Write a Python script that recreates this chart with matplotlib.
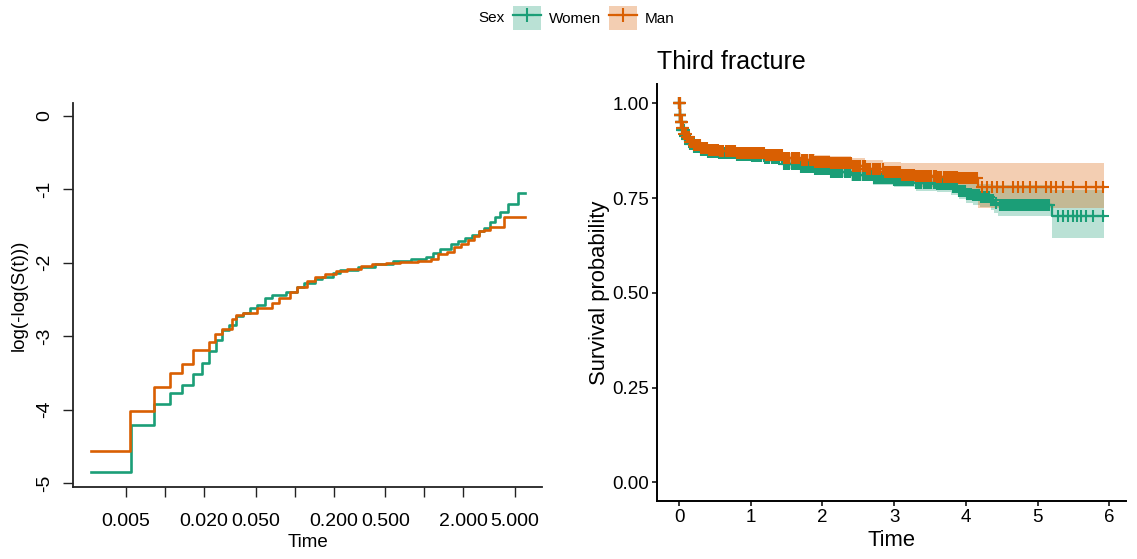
import matplotlib
matplotlib.use("Agg")
import matplotlib.pyplot as plt
from matplotlib.lines import Line2D
from matplotlib.patches import Patch
import numpy as np

plt.rcParams["font.family"] = ["Liberation Sans", "DejaVu Sans"]

C_WOMEN = "#1B9E77"
C_MAN = "#D95F02"

# ── Left panel: log(-log(S(t))) vs log time ─────────────
loglog_t_women = [0.0027, 0.0055, 0.0082, 0.0109, 0.0136, 0.0165, 0.0193, 0.0219,
                  0.0249, 0.0277, 0.0311, 0.0353, 0.0400, 0.0455, 0.0516, 0.0586,
                  0.0665, 0.0857, 0.104, 0.118, 0.143, 0.162, 0.196, 0.222, 0.305,
                  0.419, 0.575, 0.789, 1.02, 1.16, 1.31, 1.59, 1.80, 2.05, 2.32,
                  2.64, 2.90, 3.18, 3.51, 3.85, 4.38, 5.22, 5.93]
loglog_v_women = [-4.85, -4.21, -3.93, -3.77, -3.66, -3.51, -3.37, -3.20,
                  -3.05, -2.92, -2.85, -2.73, -2.68, -2.62, -2.57, -2.48,
                  -2.44, -2.40, -2.33, -2.28, -2.22, -2.19, -2.14, -2.10, -2.06,
                  -2.01, -1.98, -1.95, -1.92, -1.87, -1.81, -1.74, -1.70, -1.66, -1.62,
                  -1.57, -1.52, -1.44, -1.38, -1.31, -1.20, -1.05, -1.05]

loglog_t_man = [0.0027, 0.0054, 0.0082, 0.0109, 0.0136, 0.0165, 0.0217, 0.0241,
                0.0277, 0.0327, 0.0353, 0.0400, 0.0516, 0.0665, 0.0755, 0.0914,
                0.104, 0.125, 0.143, 0.172, 0.208, 0.252, 0.325, 0.393, 0.507,
                0.653, 0.896, 1.12, 1.27, 1.49, 1.69, 1.92, 2.18, 2.39, 2.64,
                2.90, 3.23, 4.11, 5.93]
loglog_v_man = [-4.56, -4.02, -3.69, -3.50, -3.38, -3.19, -3.08, -2.97,
                -2.90, -2.77, -2.71, -2.68, -2.62, -2.55, -2.48, -2.40,
                -2.33, -2.25, -2.19, -2.15, -2.11, -2.08, -2.05, -2.02, -2.00,
                -1.99, -1.97, -1.95, -1.88, -1.85, -1.78, -1.74, -1.69, -1.64, -1.57,
                -1.55, -1.51, -1.38, -1.38]

log_ticks = [0.005, 0.01, 0.02, 0.05, 0.1, 0.2, 0.5, 1, 2, 5]
log_tick_labels = ["0.005", "", "0.020", "0.050", "", "0.200", "0.500", "", "2.000", "5.000"]
loglog_yticks = [0, -1, -2, -3, -4, -5]

# ── Right panel: Kaplan-Meier "Third fracture" ──────────
km_t_women = [0, 0.01, 0.02, 0.04, 0.07, 0.10, 0.15, 0.20, 0.30, 0.40, 0.55, 0.80,
              1.00, 1.20, 1.45, 1.70, 1.90, 2.10, 2.40, 2.70, 3.00, 3.30, 3.60, 3.80,
              3.90, 4.00, 4.10, 4.20, 4.35, 4.40, 4.45, 5.20, 5.93]
km_s_women = [1.0, 0.97, 0.95, 0.93, 0.915, 0.905, 0.893, 0.886, 0.878, 0.872, 0.868, 0.865,
              0.862, 0.857, 0.840, 0.832, 0.826, 0.820, 0.810, 0.802, 0.797, 0.790, 0.786, 0.780,
              0.770, 0.762, 0.757, 0.752, 0.745, 0.738, 0.731, 0.703, 0.703]
km_lo_women = [1.0, 0.96, 0.94, 0.92, 0.905, 0.895, 0.883, 0.876, 0.868, 0.862, 0.857, 0.854,
               0.851, 0.845, 0.827, 0.818, 0.812, 0.805, 0.794, 0.785, 0.779, 0.770, 0.765, 0.758,
               0.747, 0.738, 0.732, 0.727, 0.718, 0.710, 0.703, 0.644, 0.644]
km_hi_women = [1.0, 0.98, 0.96, 0.94, 0.925, 0.915, 0.903, 0.896, 0.888, 0.882, 0.879, 0.876,
               0.873, 0.869, 0.853, 0.846, 0.840, 0.835, 0.826, 0.819, 0.815, 0.810, 0.807, 0.802,
               0.795, 0.790, 0.788, 0.786, 0.784, 0.784, 0.784, 0.771, 0.771]

km_t_man = [0, 0.01, 0.02, 0.04, 0.07, 0.10, 0.15, 0.20, 0.30, 0.40, 0.55, 0.80,
            1.00, 1.20, 1.45, 1.70, 1.90, 2.10, 2.40, 2.60, 2.85, 3.10, 3.30, 3.60,
            3.90, 4.17, 5.93]
km_s_man = [1.0, 0.97, 0.95, 0.935, 0.92, 0.91, 0.897, 0.89, 0.882, 0.877, 0.873, 0.870,
            0.868, 0.865, 0.855, 0.850, 0.846, 0.842, 0.835, 0.828, 0.820, 0.812, 0.808, 0.805,
            0.803, 0.780, 0.780]
km_lo_man = [1.0, 0.96, 0.94, 0.924, 0.909, 0.899, 0.886, 0.879, 0.871, 0.865, 0.861, 0.857,
             0.855, 0.851, 0.840, 0.834, 0.829, 0.824, 0.815, 0.806, 0.795, 0.786, 0.780, 0.776,
             0.773, 0.723, 0.723]
km_hi_man = [1.0, 0.98, 0.96, 0.946, 0.931, 0.921, 0.908, 0.901, 0.893, 0.889, 0.885, 0.883,
             0.881, 0.879, 0.870, 0.866, 0.863, 0.860, 0.855, 0.850, 0.846, 0.843, 0.843, 0.843,
             0.843, 0.843, 0.843]

censor_women = [0.002, 0.004, 0.006, 0.008, 0.010, 0.012, 0.014, 0.016, 0.019, 0.022, 0.026,
                0.03, 0.035, 0.04, 0.046, 0.052, 0.06, 0.068, 0.078, 0.09, 0.105, 0.12, 0.135,
                0.15, 0.17, 0.19, 0.21, 0.23, 0.25, 0.27, 0.29, 0.31, 0.335, 0.36, 0.385, 0.41,
                0.435, 0.46, 0.485, 0.51, 0.535, 0.56, 0.585, 0.61, 0.635, 0.66, 0.685, 0.71,
                0.735, 0.76, 0.785, 0.81, 0.835, 0.86, 0.885, 0.91, 0.935, 0.96, 0.99, 1.02,
                1.045, 1.07, 1.095, 1.12, 1.15, 1.18, 1.205, 1.23, 1.26, 1.29, 1.315, 1.34,
                1.37, 1.4, 1.43, 1.46, 1.485, 1.51, 1.54, 1.57, 1.595, 1.62, 1.65, 1.68,
                1.705, 1.73, 1.76, 1.79, 1.815, 1.84, 1.87, 1.9, 1.925, 1.95, 1.98, 2.01,
                2.035, 2.06, 2.09, 2.12, 2.145, 2.17, 2.2, 2.23, 2.255, 2.28, 2.31, 2.34,
                2.365, 2.39, 2.42, 2.45, 2.475, 2.5, 2.53, 2.56, 2.585, 2.61, 2.64, 2.67,
                2.695, 2.72, 2.75, 2.78, 2.805, 2.83, 2.86, 2.89, 2.915, 2.94, 2.97, 3.0,
                3.025, 3.05, 3.08, 3.11, 3.135, 3.16, 3.19, 3.22, 3.245, 3.27, 3.3, 3.33,
                3.355, 3.38, 3.41, 3.44, 3.465, 3.49, 3.52, 3.55, 3.575, 3.6, 3.63, 3.66,
                3.685, 3.71, 3.74, 3.77, 3.795, 3.82, 3.85, 3.88, 3.905, 3.93, 3.96, 3.99,
                4.015, 4.04, 4.07, 4.1, 4.125, 4.15, 4.18, 4.21, 4.24, 4.27, 4.3, 4.32,
                4.35, 4.38, 4.42, 4.47, 4.5, 4.52, 4.54, 4.56, 4.58, 4.6, 4.63, 4.65, 4.67,
                4.69, 4.71, 4.74, 4.76, 4.78, 4.8, 4.83, 4.85, 4.87, 4.89, 4.92, 4.94,
                4.96, 4.98, 5.01, 5.03, 5.05, 5.07, 5.1, 5.12, 5.14, 5.16, 5.29, 5.36,
                5.43, 5.50, 5.55, 5.61, 5.68, 5.77, 5.92]
censor_man = [0.001, 0.003, 0.005, 0.007, 0.009, 0.011, 0.013, 0.015, 0.018, 0.021, 0.025,
              0.029, 0.033, 0.038, 0.045, 0.052, 0.06, 0.07, 0.08, 0.095, 0.11, 0.125, 0.14,
              0.155, 0.17, 0.19, 0.21, 0.23, 0.25, 0.27, 0.29, 0.31, 0.33, 0.35, 0.37, 0.395,
              0.42, 0.445, 0.47, 0.495, 0.52, 0.545, 0.57, 0.595, 0.62, 0.65, 0.68, 0.705,
              0.73, 0.755, 0.78, 0.81, 0.84, 0.865, 0.89, 0.915, 0.94, 0.965, 0.99, 1.02,
              1.05, 1.075, 1.1, 1.13, 1.16, 1.185, 1.21, 1.24, 1.27, 1.295, 1.32, 1.35,
              1.38, 1.405, 1.43, 1.46, 1.49, 1.515, 1.54, 1.57, 1.6, 1.625, 1.65, 1.68,
              1.71, 1.735, 1.76, 1.79, 1.82, 1.845, 1.87, 1.9, 1.93, 1.955, 1.98, 2.01,
              2.04, 2.065, 2.09, 2.12, 2.15, 2.175, 2.2, 2.23, 2.26, 2.285, 2.31, 2.34,
              2.37, 2.395, 2.42, 2.45, 2.48, 2.505, 2.53, 2.56, 2.59, 2.615, 2.64, 2.67,
              2.7, 2.73, 2.76, 2.785, 2.81, 2.84, 2.87, 2.895, 2.92, 2.945, 2.97, 3.0,
              3.03, 3.055, 3.08, 3.11, 3.14, 3.165, 3.19, 3.22, 3.25, 3.275, 3.3, 3.33,
              3.36, 3.385, 3.41, 3.44, 3.47, 3.495, 3.52, 3.55, 3.58, 3.605, 3.63, 3.66,
              3.69, 3.715, 3.74, 3.77, 3.8, 3.825, 3.85, 3.88, 3.91, 3.935, 3.96, 3.99,
              4.02, 4.045, 4.07, 4.1, 4.13, 4.15, 4.22, 4.29, 4.36, 4.43, 4.52, 4.66,
              4.73, 4.80, 4.89, 4.98, 5.12, 5.19, 5.26, 5.35, 5.49, 5.68, 5.82, 5.91]

km_xticks = [0, 1, 2, 3, 4, 5, 6]
km_yticks = [0.0, 0.25, 0.50, 0.75, 1.00]

W, H = 1137, 559
fig = plt.figure(figsize=(W / 100, H / 100), dpi=100)


def frac(x0, y0, x1, y1):
    """pixel box (left, top, right, bottom) -> figure fraction rect"""
    return [x0 / W, 1 - y1 / H, (x1 - x0) / W, (y1 - y0) / H]


# ── Left panel ────────────────────────────────
ax1 = fig.add_axes(frac(73, 103, 542, 487))
ax1.step(loglog_t_women, loglog_v_women, where="post", color=C_WOMEN, lw=1.9)
ax1.step(loglog_t_man, loglog_v_man, where="post", color=C_MAN, lw=1.9)
ax1.set_xscale("log")
ax1.set_xlim(0.00195, 8.06)
ax1.set_ylim(-5.054, 0.177)
ax1.set_xticks(log_ticks)
ax1.set_xticklabels(log_tick_labels)
ax1.xaxis.set_minor_locator(matplotlib.ticker.NullLocator())
ax1.set_yticks(loglog_yticks)
ax1.set_yticklabels([str(v) for v in loglog_yticks], rotation=90, va="center")
for s in ("top", "right"):
    ax1.spines[s].set_visible(False)
for s in ("left", "bottom"):
    ax1.spines[s].set_linewidth(1.3)
    ax1.spines[s].set_color("#222222")
ax1.tick_params(axis="both", length=7.5, width=1.0, color="#222222",
                labelsize=14, pad=7)
ax1.tick_params(axis="x", pad=11)
ax1.set_xlabel("Time", fontsize=13.5, labelpad=3)
ax1.set_ylabel("log(-log(S(t)))", fontsize=13.5, labelpad=6)

# ── Right panel ───────────────────────────────
ax2 = fig.add_axes(frac(657, 84, 1126, 501))
ax2.fill_between(km_t_women, km_lo_women, km_hi_women, step="post",
                 color=C_WOMEN, alpha=0.3, lw=0)
ax2.fill_between(km_t_man, km_lo_man, km_hi_man, step="post",
                 color=C_MAN, alpha=0.3, lw=0)

for t, s, cens, col in [(km_t_women, km_s_women, censor_women, C_WOMEN),
                        (km_t_man, km_s_man, censor_man, C_MAN)]:
    ax2.step(t, s, where="post", color=col, lw=1.6)
    idx = np.searchsorted(t, cens, side="right") - 1
    ax2.plot(cens, np.asarray(s)[idx], ls="none", marker="+", color=col,
             markersize=8, markeredgewidth=1.5)

ax2.set_xlim(-0.307, 6.234)
ax2.set_ylim(-0.049, 1.051)
ax2.set_xticks(km_xticks)
ax2.set_yticks(km_yticks)
ax2.set_yticklabels([f"{v:.2f}" for v in km_yticks])
for s in ("top", "right"):
    ax2.spines[s].set_visible(False)
for s in ("left", "bottom"):
    ax2.spines[s].set_linewidth(1.4)
ax2.tick_params(axis="both", length=3.5, width=1.1, labelsize=13.5, pad=2)
ax2.set_xlabel("Time", fontsize=15.8, labelpad=3)
ax2.set_ylabel("Survival probability", fontsize=15.8, labelpad=2)
ax2.set_title("Third fracture", fontsize=18, loc="left", pad=11)

# ── Legend across the top ─────────────────────
fig.text(478 / W, 1 - 18 / H, "Sex", fontsize=11, va="center", ha="left")
handles = [(Patch(facecolor=C_WOMEN, alpha=0.3, lw=0),
            Line2D([], [], color=C_WOMEN, lw=1.6, marker="+", markersize=10, mew=1.5)),
           (Patch(facecolor=C_MAN, alpha=0.3, lw=0),
            Line2D([], [], color=C_MAN, lw=1.6, marker="+", markersize=10, mew=1.5))]
fig.legend(handles, ["Women", "Man"], loc="center", ncol=2,
           bbox_to_anchor=(594 / W, 1 - 18 / H), frameon=False, fontsize=11,
           handlelength=1.8, handleheight=2.0, handletextpad=0.55,
           columnspacing=0.5, borderpad=0)

fig.savefig("out.png", dpi=100)
